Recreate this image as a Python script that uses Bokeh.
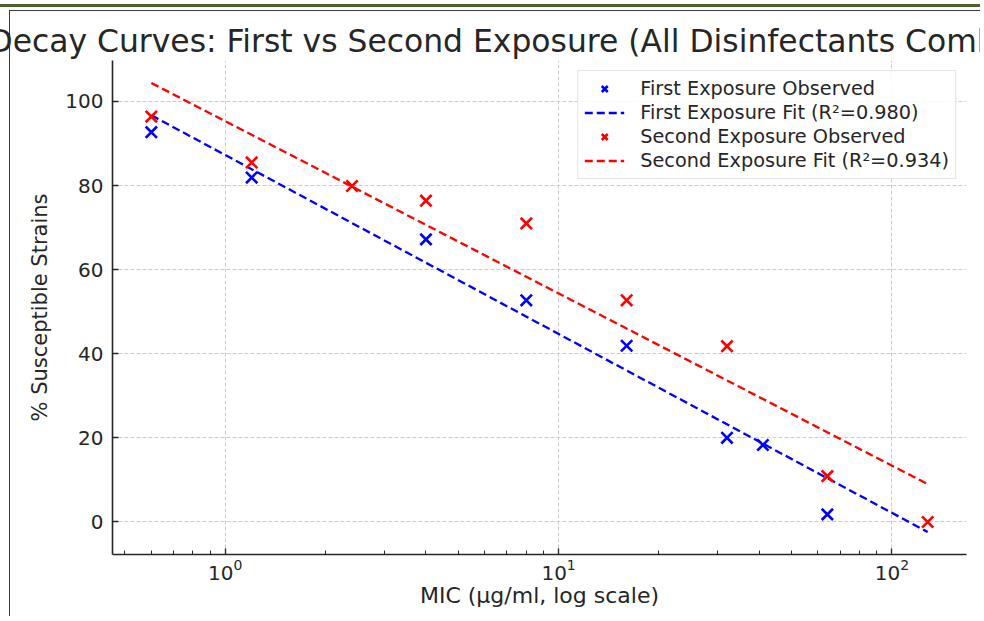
import numpy as np
from bokeh.plotting import figure
from bokeh.models import (Range1d, FixedTicker, LogTickFormatter, Legend, LegendItem,
                          InlineStyleSheet)
from bokeh.embed import file_html
from bokeh.resources import INLINE

# ---------------- data ----------------
title_text = "Decay Curves: First vs Second Exposure (All Disinfectants Combined)"
x_label = "MIC (µg/ml, log scale)"
y_label = "% Susceptible Strains"

first_mic = [0.6, 1.2, 4, 8, 16, 32, 41, 64]
first_pct = [92.7, 81.9, 67.2, 52.7, 41.9, 20.0, 18.3, 1.8]

second_mic = [0.6, 1.2, 2.4, 4, 8, 16, 32, 64, 128]
second_pct = [96.4, 85.5, 79.9, 76.4, 71.0, 52.7, 41.8, 10.9, 0.0]

fit_mic = [0.6, 128]
first_fit_pct = [96.7, -2.4]
second_fit_pct = [104.4, 9.0]
first_r2 = 0.980
second_r2 = 0.934

y_ticks = [0, 20, 40, 60, 80, 100]
x_major_ticks = [1, 10, 100]
x_minor_ticks = [0.2, 0.3, 0.4, 0.5, 0.6, 0.7, 0.8, 0.9,
                 2, 3, 4, 5, 6, 7, 8, 9,
                 20, 30, 40, 50, 60, 70, 80, 90,
                 200, 300]

# ---------------- ranges (5% padding like the original) ----------------
all_x = np.log10(np.array(first_mic + second_mic + fit_mic, dtype=float))
lo, hi = all_x.min(), all_x.max()
pad = 0.05 * (hi - lo)
x_range = Range1d(10 ** (lo - pad), 10 ** (hi + pad))

all_y = np.array(first_pct + second_pct + first_fit_pct + second_fit_pct, dtype=float)
ylo, yhi = all_y.min(), all_y.max()
ypad = 0.05 * (yhi - ylo)
y_range = Range1d(ylo - ypad, yhi + ypad)

TEXT = "#262626"
FONT = "DejaVu Sans"

p = figure(width=980, height=616, x_axis_type="log", x_range=x_range, y_range=y_range,
           output_backend="svg", toolbar_location=None,
           min_border_left=112, min_border_right=14, min_border_top=60, min_border_bottom=62)
p.outline_line_color = None
# transparent canvas: the page (white, olive rule, image frame) is the element's background
p.background_fill_color = None
p.border_fill_color = None
p.css_classes = ["pagefig"]
p.stylesheets = [InlineStyleSheet(css="""
:host(.pagefig) {
  background-color: #ffffff;
  background-image: linear-gradient(#4f6228, #4f6228),
                    linear-gradient(#3a3a3a, #3a3a3a),
                    linear-gradient(#3a3a3a, #3a3a3a);
  background-size: 100% 3px, 100% 1px, 1px 100%;
  background-position: 0 4px, 9px 10px, 9px 10px;
  background-repeat: no-repeat;
}
""")]

# ---------------- title (runs past the edges, as in the reference) ----------------
p.title.text = title_text
p.title.text_font = FONT
p.title.text_font_size = "31.4px"
p.title.text_font_style = "normal"
p.title.text_color = TEXT
p.title.align = "left"
p.title.offset = -124
p.title.standoff = 4

# ---------------- axes ----------------
xa = p.xaxis[0]
xa.ticker = FixedTicker(ticks=x_major_ticks, minor_ticks=x_minor_ticks)
xa.formatter = LogTickFormatter()
ya = p.yaxis[0]
ya.ticker = FixedTicker(ticks=y_ticks)

for ax in (xa, ya):
    ax.axis_line_color = TEXT
    ax.axis_line_width = 1.6
    ax.major_tick_line_color = TEXT
    ax.major_tick_line_width = 1.3
    ax.major_tick_in = 6
    ax.major_tick_out = 0
    ax.major_label_text_font = FONT
    ax.major_label_text_font_size = "20px"
    ax.major_label_text_color = TEXT
    ax.axis_label_text_font = FONT
    ax.axis_label_text_font_style = "normal"
    ax.axis_label_text_color = TEXT

xa.minor_tick_line_color = TEXT
xa.minor_tick_line_width = 1.0
xa.minor_tick_in = 4
xa.minor_tick_out = 0
xa.major_label_standoff = 4
xa.axis_label = x_label
xa.axis_label_text_font_size = "22px"
xa.axis_label_standoff = 0

ya.minor_tick_line_color = None
ya.major_label_standoff = 9
ya.axis_label = y_label
ya.axis_label_text_font_size = "21px"
ya.axis_label_standoff = 10

for g in (p.xgrid[0], p.ygrid[0]):
    g.grid_line_color = "#cccccc"
    g.grid_line_dash = "4 2"
    g.grid_line_width = 1

# ---------------- glyphs ----------------
r1 = p.scatter(first_mic, first_pct, marker="x", size=16, line_color="#0000ff", line_width=2.6)
r2 = p.line(fit_mic, first_fit_pct, line_color="#0000ff", line_dash="8 4", line_width=2.3)
r3 = p.scatter(second_mic, second_pct, marker="x", size=16, line_color="#ff0000", line_width=2.6)
r4 = p.line(fit_mic, second_fit_pct, line_color="#ff0000", line_dash="8 4", line_width=2.3)

legend = Legend(items=[
    LegendItem(label="First Exposure Observed", renderers=[r1]),
    LegendItem(label=f"First Exposure Fit (R²={first_r2:.3f})", renderers=[r2]),
    LegendItem(label="Second Exposure Observed", renderers=[r3]),
    LegendItem(label=f"Second Exposure Fit (R²={second_r2:.3f})", renderers=[r4]),
], location="top_right")
legend.label_text_font = FONT
legend.label_text_font_size = "19.3px"
legend.label_text_color = TEXT
legend.glyph_width = 40
legend.glyph_height = 21
legend.label_height = 21
legend.spacing = 1
legend.padding = 6
legend.margin = 10
legend.label_standoff = 16
legend.border_line_color = "#cccccc"
legend.border_line_width = 1
legend.background_fill_color = "white"
legend.background_fill_alpha = 0.85
p.add_layout(legend)

open("out.html", "w").write(file_html(p, INLINE))
